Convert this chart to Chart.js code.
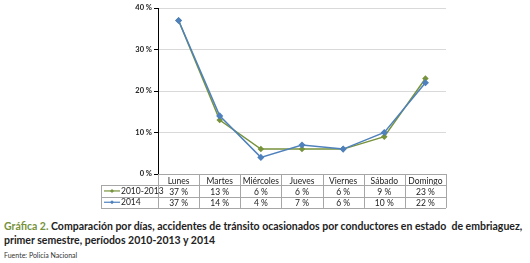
<!DOCTYPE html>
<html>
<head>
<meta charset="utf-8">
<script src="https://cdn.jsdelivr.net/npm/chart.js@4/dist/chart.umd.min.js"></script>
<style>
  html, body { margin: 0; padding: 0; background: #fff; }
  body { width: 530px; height: 263px; position: relative; overflow: hidden; font-family: Lato, "Open Sans", sans-serif; }
  #wrap { position: absolute; left: 0; top: 0; width: 530px; height: 212px; }
  #caption { position: absolute; left: 4px; top: 219px; width: 526px; font-size: 10.5px; font-weight: bold; line-height: 14px; color: #222; }
  #caption .lead { color: #76923c; }
  #source { position: absolute; left: 4px; top: 251px; font-size: 7px; color: #333; }
</style>
</head>
<body>
<div id="wrap"><canvas id="chart"></canvas></div>
<div id="caption"><span class="lead">Gráfica 2.</span> Comparación por días, accidentes de tránsito ocasionados por conductores en estado&nbsp; de embriaguez, primer semestre, períodos 2010-2013 y 2014</div>
<div id="source">Fuente: Policía Nacional</div>
<script>
const days = ['Lunes', 'Martes', 'Miércoles', 'Jueves', 'Viernes', 'Sábado', 'Domingo'];
const seriesNames = ['2010-2013', '2014'];
const values2010_2013 = [37, 13, 6, 6, 6, 9, 23];
const values2014 = [37, 14, 4, 7, 6, 10, 22];
const yTicks = [0, 10, 20, 30, 40];

const colors = ['#77933c', '#4f81bd'];
const tableFont = '8.5px Lato, "Open Sans", sans-serif';

// draws the data table under the plot (legend cells + values), aligned to the x scale
const dataTable = {
  id: 'dataTable',
  afterDraw(chart) {
    const { ctx, chartArea, scales } = chart;
    const x = scales.x;
    const step = x.getPixelForValue(1) - x.getPixelForValue(0);
    const top = chartArea.bottom;
    const rowH = 11.3;
    const legendLeft = 101;
    const rows = [values2010_2013, values2014];

    ctx.save();
    ctx.strokeStyle = '#a6a6a6';
    ctx.lineWidth = 1;
    ctx.beginPath();
    ctx.moveTo(chartArea.left, top + 0.5);
    ctx.lineTo(chartArea.right, top + 0.5);
    for (let r = 1; r <= 3; r++) {
      const yy = Math.round(top + r * rowH) + 0.5;
      ctx.moveTo(legendLeft, yy);
      ctx.lineTo(chartArea.right, yy);
    }
    for (let i = 0; i <= days.length; i++) {
      const xx = Math.round(chartArea.left + i * step) + 0.5;
      ctx.moveTo(xx, top);
      ctx.lineTo(xx, top + 3 * rowH);
    }
    ctx.moveTo(legendLeft + 0.5, top + rowH);
    ctx.lineTo(legendLeft + 0.5, top + 3 * rowH);
    ctx.stroke();

    ctx.font = tableFont;
    ctx.textBaseline = 'middle';
    rows.forEach((vals, r) => {
      const cy = top + (r + 1.5) * rowH;
      // legend key
      ctx.strokeStyle = colors[r];
      ctx.fillStyle = colors[r];
      ctx.lineWidth = 1.2;
      ctx.beginPath();
      ctx.moveTo(legendLeft + 3, cy);
      ctx.lineTo(legendLeft + 19, cy);
      ctx.stroke();
      ctx.beginPath();
      ctx.moveTo(legendLeft + 11, cy - 2);
      ctx.lineTo(legendLeft + 13, cy);
      ctx.lineTo(legendLeft + 11, cy + 2);
      ctx.lineTo(legendLeft + 9, cy);
      ctx.closePath();
      ctx.fill();
      ctx.fillStyle = '#222';
      ctx.textAlign = 'left';
      ctx.fillText(seriesNames[r], legendLeft + 20, cy + 0.5);
      ctx.textAlign = 'center';
      vals.forEach((v, i) => {
        ctx.fillText(v + ' %', x.getPixelForValue(i), cy + 1);
      });
    });
    ctx.restore();
  }
};

new Chart(document.getElementById('chart'), {
  type: 'line',
  data: {
    labels: days,
    datasets: [
      {
        label: seriesNames[0],
        data: values2010_2013,
        borderColor: colors[0],
        backgroundColor: colors[0],
        borderWidth: 1.5,
        pointStyle: 'rectRot',
        pointRadius: 2.2,
        tension: 0,
        order: 2
      },
      {
        label: seriesNames[1],
        data: values2014,
        borderColor: colors[1],
        backgroundColor: colors[1],
        borderWidth: 1.5,
        pointStyle: 'rectRot',
        pointRadius: 2.5,
        tension: 0,
        order: 1
      }
    ]
  },
  options: {
    responsive: true,
    maintainAspectRatio: false,
    animation: false,
    layout: { padding: { left: 0, top: 8, right: 84, bottom: 0 } },
    scales: {
      x: {
        offset: true,
        grid: { display: false, drawTicks: false },
        border: { display: false },
        ticks: { color: '#222', font: { size: 8.5, family: 'Lato, "Open Sans", sans-serif' }, padding: 2, maxRotation: 0 },
        afterFit(scale) { scale.height = 38; }
      },
      y: {
        min: 0,
        max: 40,
        afterBuildTicks(scale) { scale.ticks = yTicks.map(v => ({ value: v })); },
        grid: { color: '#d9d9d9', tickColor: '#000', tickLength: 4 },
        border: { color: '#000', width: 1 },
        ticks: {
          color: '#222',
          padding: 2,
          font: { size: 7.5, weight: 'bold', family: 'Lato, "Open Sans", sans-serif' },
          callback: v => v + ' %'
        },
        afterFit(scale) { scale.width = 158; }
      }
    },
    plugins: {
      legend: { display: false },
      tooltip: { enabled: false }
    }
  },
  plugins: [dataTable]
});
</script>
</body>
</html>
